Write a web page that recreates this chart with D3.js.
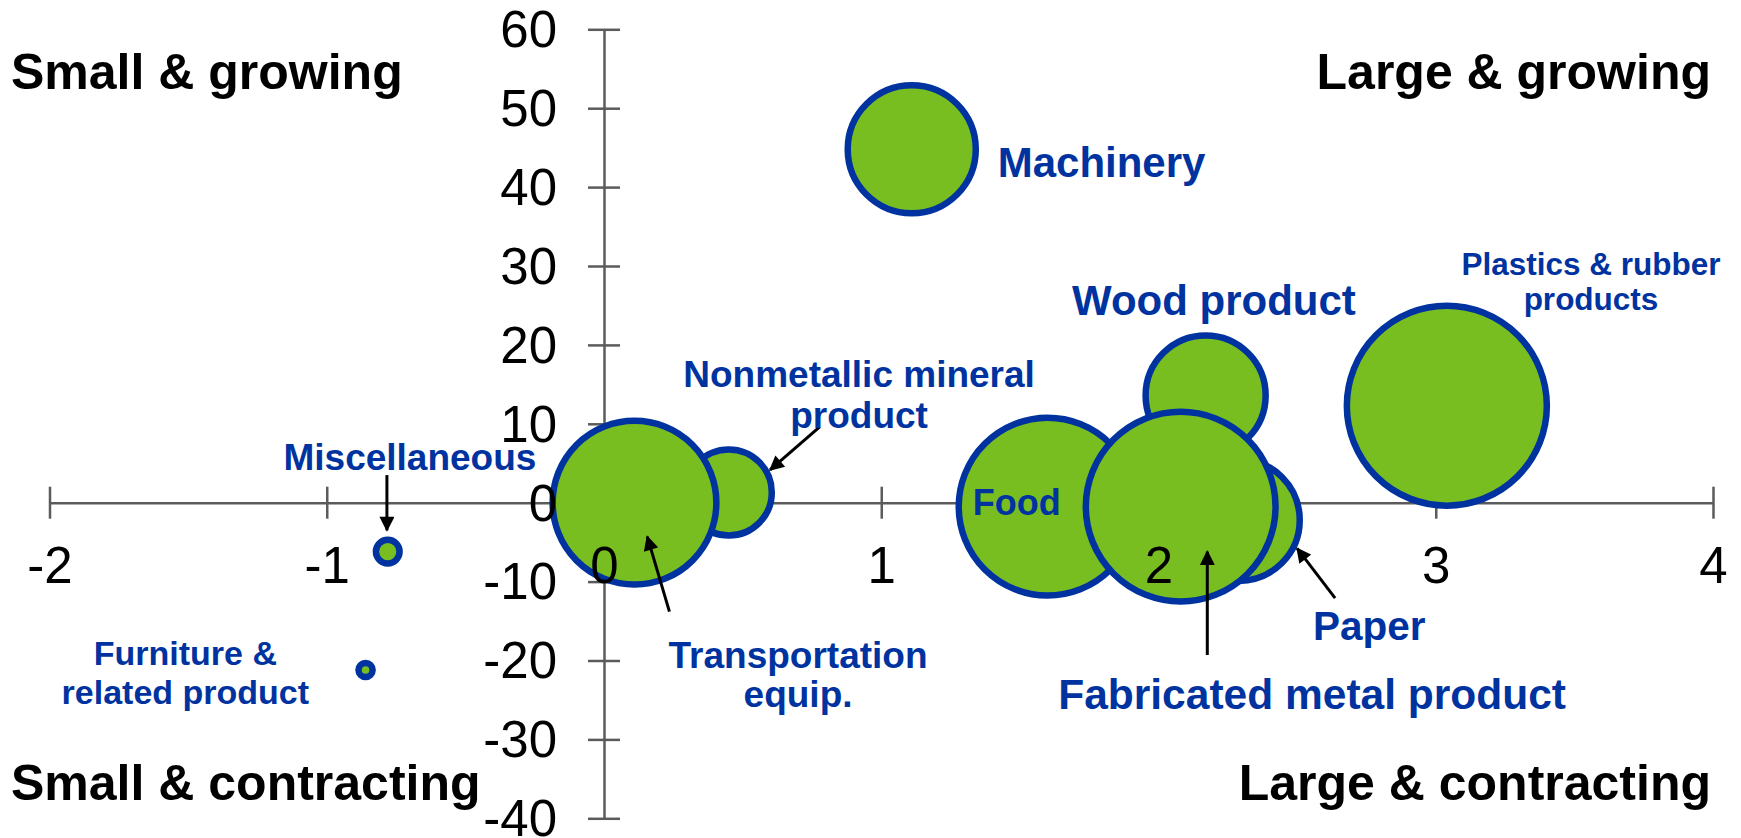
<!DOCTYPE html>
<html>
<head>
<meta charset="utf-8">
<title>Industry bubbles</title>
<style>
html, body { margin: 0; padding: 0; background: #fff; }
svg { display: block; font-family: "Liberation Sans", Arial, sans-serif; }
</style>
</head>
<body>
<svg width="1741" height="838"></svg>
<script src="https://cdnjs.cloudflare.com/ajax/libs/d3/7.8.5/d3.min.js"></script>
<script>
// bubbles, in drawing order (later ones sit on top)
let industries = ["Plastics & rubber products", "Machinery", "Wood product", "Paper", "Food",
    "Fabricated metal product", "Nonmetallic mineral product", "Transportation equip.",
    "Miscellaneous", "Furniture & related product"];
let xValues = [3.04, 1.11, 2.17, 2.29, 1.60, 2.08, 0.45, 0.11, -0.78, -0.86];
let yValues = [12.3, 44.8, 13.6, -2.2, -0.5, -0.5, 1.3, 0.0, -6.2, -21.2];
let sizes = [100, 41, 36, 37, 79, 90, 18.5, 67, 1.4, 0.5];

let xTicks = [-2, -1, 0, 1, 2, 3, 4];
let yTicks = [-40, -30, -20, -10, 0, 10, 20, 30, 40, 50, 60];

let quadrants = ["Small & growing", "Large & growing", "Small & contracting", "Large & contracting"];

// label text and where it sits, in data units
let labelLines = [["Plastics & rubber", "products"], ["Machinery"], ["Wood product"], ["Paper"], ["Food"],
    ["Fabricated metal product"], ["Nonmetallic mineral", "product"], ["Transportation", "equip."],
    ["Miscellaneous"], ["Furniture &", "related product"]];
let labelX = [3.56, 1.42, 2.20, 2.76, 1.33, 2.554, 0.92, 0.70, -0.70, -1.51];
let labelY = [28.9, 41.3, 23.8, -17.4, -1.6, -26.1, 14.7, -21.0, 4.1, -20.6];

// arrows: tail -> tip, in data units
let arrows = [
    {from: [-0.783, 3.5], to: [-0.783, -3.5]},
    {from: [0.778, 9.6], to: [0.599, 4.15]},
    {from: [0.236, -13.8], to: [0.156, -4.3]},
    {from: [2.176, -19.3], to: [2.176, -6.2]},
    {from: [2.637, -12.1], to: [2.50, -5.8]}
];

let labelSize = [31.5, 42, 42, 40.5, 36, 42.5, 37, 37, 37, 34];
let labelAnchor = ["middle", "start", "middle", "middle", "start", "middle", "middle", "middle", "middle", "middle"];
let lineGap = [35, 0, 0, 0, 0, 0, 41.7, 38.4, 0, 38.3];

let green = "#78BE21";
let blue = "#0033A0";
let axisColor = "#5b5b5b";

let svg = d3.select("svg");

let x = d3.scaleLinear().domain([-2, 4]).range([49.5, 1713]);
let y = d3.scaleLinear().domain([-40, 60]).range([818.3, 29.3]);
let r = d3.scaleSqrt().domain([0, 100]).range([0, 100]);

// axis lines (under the bubbles)
let yAxisG = svg.append("g")
    .attr("transform", "translate(" + x(0) + ",0)")
    .call(d3.axisLeft(y).tickValues(yTicks).tickSize(16).tickSizeOuter(0).tickFormat(""));
yAxisG.selectAll(".tick line").attr("x1", 16);

let xAxisG = svg.append("g")
    .attr("transform", "translate(0," + y(0) + ")")
    .call(d3.axisBottom(x).tickValues(xTicks).tickSize(16).tickSizeOuter(0).tickFormat(""));
xAxisG.selectAll(".tick line").attr("y1", -16);

[yAxisG, xAxisG].forEach(g => {
    g.selectAll("path, line").attr("stroke", axisColor).attr("stroke-width", 2.5);
});

// bubbles
let data = industries.map((name, i) => ({name: name, x: xValues[i], y: yValues[i], size: sizes[i]}));

svg.append("g").selectAll("circle")
    .data(data)
    .enter().append("circle")
    .attr("cx", d => x(d.x))
    .attr("cy", d => y(d.y))
    .attr("r", d => r(d.size))
    .attr("fill", green)
    .attr("stroke", blue)
    .attr("stroke-width", 6.5);

// tick labels on top of bubbles
let fmt = d => String(d);
let yText = svg.append("g")
    .attr("transform", "translate(" + x(0) + ",0)")
    .call(d3.axisLeft(y).tickValues(yTicks).tickSize(0).tickPadding(47).tickFormat(fmt));
let xText = svg.append("g")
    .attr("transform", "translate(0," + y(0) + ")")
    .call(d3.axisBottom(x).tickValues(xTicks).tickSize(0).tickFormat(fmt));
[yText, xText].forEach(g => {
    g.select(".domain").remove();
    g.selectAll("line").remove();
    g.selectAll("text")
        .attr("font-family", "'Liberation Sans', Arial, sans-serif")
        .attr("font-size", 51)
        .attr("fill", "#000");
});
yText.selectAll("text").attr("dy", "0.34em");
xText.selectAll("text").attr("y", 80.6).attr("dy", 0);

// arrows
svg.append("defs").append("marker")
    .attr("id", "arrowhead")
    .attr("viewBox", "0 0 10 10")
    .attr("refX", 9)
    .attr("refY", 5)
    .attr("markerUnits", "userSpaceOnUse")
    .attr("markerWidth", 16)
    .attr("markerHeight", 15)
    .attr("orient", "auto")
    .append("path")
    .attr("d", "M0,0 L10,5 L0,10 z")
    .attr("fill", "#000");

svg.append("g").selectAll("line")
    .data(arrows)
    .enter().append("line")
    .attr("x1", d => x(d.from[0]))
    .attr("y1", d => y(d.from[1]))
    .attr("x2", d => x(d.to[0]))
    .attr("y2", d => y(d.to[1]))
    .attr("stroke", "#000")
    .attr("stroke-width", 3)
    .attr("marker-end", "url(#arrowhead)");

// bubble labels
let labels = svg.append("g").selectAll("text")
    .data(data)
    .enter().append("text")
    .attr("x", (d, i) => x(labelX[i]))
    .attr("y", (d, i) => y(labelY[i]))
    .attr("text-anchor", (d, i) => labelAnchor[i])
    .attr("font-size", (d, i) => labelSize[i])
    .attr("font-weight", "bold")
    .attr("fill", blue);

labels.each(function(d, i) {
    let t = d3.select(this);
    labelLines[i].forEach((line, j) => {
        t.append("tspan")
            .attr("x", x(labelX[i]))
            .attr("dy", j === 0 ? 0 : lineGap[i])
            .text(line);
    });
});

// quadrant captions
let qPos = [
    {x: 11, y: 89.3, anchor: "start"},
    {x: 1711, y: 89.3, anchor: "end"},
    {x: 11, y: 800, anchor: "start"},
    {x: 1711, y: 800, anchor: "end"}
];
svg.append("g").selectAll("text")
    .data(quadrants)
    .enter().append("text")
    .attr("x", (d, i) => qPos[i].x)
    .attr("y", (d, i) => qPos[i].y)
    .attr("text-anchor", (d, i) => qPos[i].anchor)
    .attr("font-size", 50)
    .attr("font-weight", "bold")
    .attr("fill", "#000")
    .text(d => d);
</script>
</body>
</html>
